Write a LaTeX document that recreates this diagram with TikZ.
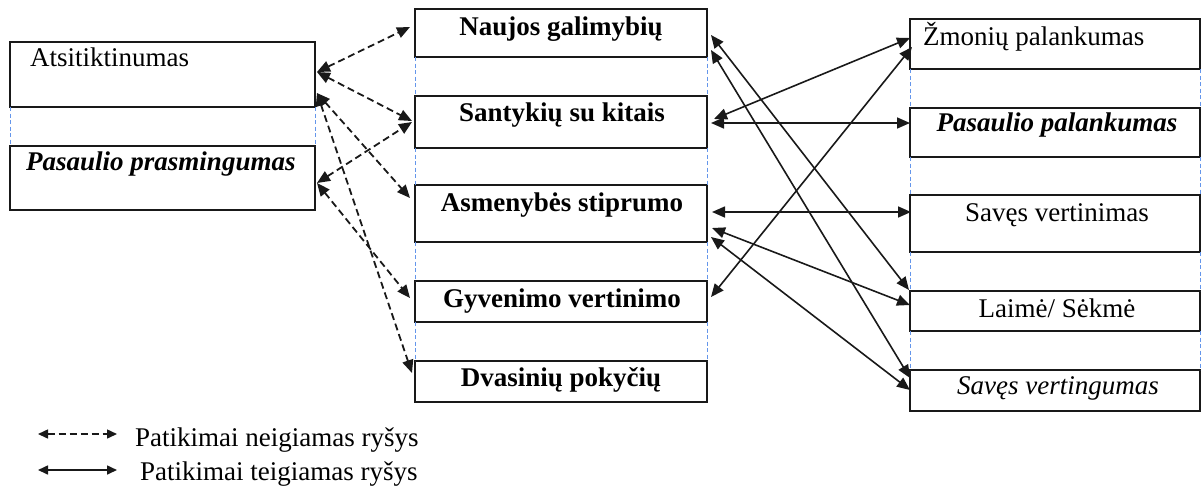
\documentclass[tikz,border=0pt]{standalone}
\usepackage{fontspec}
\setmainfont{Liberation Serif}
\usetikzlibrary{arrows.meta}
\definecolor{guideblue}{RGB}{100,150,235}
\begin{document}
\begin{tikzpicture}[x=1pt,y=-1pt,
  box/.style={draw=black!90,line width=1.6pt,rectangle,inner sep=0pt,outer sep=0pt,anchor=north west},
  txt/.style={inner sep=0pt,font=\fontsize{27}{30}\selectfont},
  mytip/.tip={Triangle[length=13pt,width=11pt]},
  negrel/.style={draw=black!90,line width=1.8pt,dash pattern=on 7pt off 4pt,mytip-mytip},
  posrel/.style={draw=black!90,line width=1.6pt,mytip-mytip},
  guide/.style={draw=guideblue,line width=1pt,dash pattern=on 4pt off 2.5pt}]
\useasboundingbox (0,0) rectangle (1202,488);

% left column
\node[box,minimum width=305,minimum height=65] (A) at (10,42) {};
\node[box,minimum width=305,minimum height=64] (P) at (10,146) {};
% middle column
\node[box,minimum width=292,minimum height=48] (N) at (415,9) {};
\node[box,minimum width=292,minimum height=52] (S) at (415,96) {};
\node[box,minimum width=292,minimum height=57] (As) at (415,185) {};
\node[box,minimum width=292,minimum height=41] (G) at (415,281) {};
\node[box,minimum width=292,minimum height=41] (D) at (415,361) {};
% right column
\node[box,minimum width=290,minimum height=50] (Z) at (910,19) {};
\node[box,minimum width=290,minimum height=49] (PP) at (910,108) {};
\node[box,minimum width=290,minimum height=57] (SV) at (910,195) {};
\node[box,minimum width=290,minimum height=40] (L) at (910,291) {};
\node[box,minimum width=290,minimum height=41] (SVg) at (910,370) {};

% guide lines
\draw[guide] (A.south west) -- (P.north west);
\draw[guide] (A.south east) -- (P.north east);
\foreach \u/\v in {N/S,S/As,As/G,G/D,Z/PP,PP/SV,SV/L,L/SVg}{
  \draw[guide] (\u.south west) -- (\v.north west);
  \draw[guide] (\u.south east) -- (\v.north east);
}

% texts
\node[txt,anchor=base west] (tA) at (30,66) {Atsitiktinumas};
\node[txt,anchor=base west] (tP) at (26,170) {\textbf{\textit{Pasaulio prasmingumas}}};
\node[txt,anchor=base] (tN) at (561,35) {\textbf{Naujos galimybių}};
\node[txt,anchor=base] (tS) at (562,121) {\textbf{Santykių su kitais}};
\node[txt,anchor=base] (tAs) at (562,211) {\textbf{Asmenybės stiprumo}};
\node[txt,anchor=base] (tG) at (562,307) {\textbf{Gyvenimo vertinimo}};
\node[txt,anchor=base] (tD) at (561,386) {\textbf{Dvasinių pokyčių}};
\node[txt,anchor=base west] (tZ) at (923,45) {Žmonių palankumas};
\node[txt,anchor=base] (tPP) at (1057,131) {\textbf{\textit{Pasaulio palankumas}}};
\node[txt,anchor=base] (tSV) at (1057,221) {Savęs vertinimas};
\node[txt,anchor=base] (tL) at (1057,317) {Laimė/ Sėkmė};
\node[txt,anchor=base] (tSVg) at (1058,394) {\textit{Savęs vertingumas}};

% negative (dashed) relations
\draw[negrel] ([shift={(2,30)}]A.north east) -- ([shift={(-5,18)}]N.north west);
\draw[negrel] ([shift={(2,30)}]A.north east) -- ([shift={(-3,25)}]S.north west);
\draw[negrel] ([shift={(2,51)}]A.north east) -- ([shift={(-5,13)}]As.north west);
\draw[negrel] ([shift={(2,51)}]A.north east) -- ([shift={(-3,12)}]D.north west);
\draw[negrel] ([shift={(2,37)}]P.north east) -- ([shift={(-3,26)}]S.north west);
\draw[negrel] ([shift={(2,37)}]P.north east) -- ([shift={(-5,17)}]G.north west);

% positive (solid) relations
\draw[posrel] ([shift={(4,26)}]N.north east) -- ([shift={(-1,-1)}]L.north west);
\draw[posrel] ([shift={(4,41)}]N.north east) -- ([shift={(0,8)}]SVg.north west);
\draw[posrel] ([shift={(7,23)}]S.north east) -- ([shift={(0,19)}]Z.north west);
\draw[posrel] ([shift={(4,27)}]S.north east) -- ([shift={(0,15)}]PP.north west);
\draw[posrel] ([shift={(4,16)}]G.north east) -- ([shift={(2,28)}]Z.north west);
\draw[posrel] ([shift={(5,27)}]As.north east) -- ([shift={(1,17)}]SV.north west);
\draw[posrel] ([shift={(5,43)}]As.north east) -- ([shift={(0,14)}]L.north west);
\draw[posrel] ([shift={(4,52)}]As.north east) -- ([shift={(0,20)}]SVg.north west);

% legend
\coordinate (ln1) at (38,434);
\coordinate (ln2) at (117,434);
\coordinate (lp1) at (38,470);
\coordinate (lp2) at (117,470);
\draw[negrel,line width=1.5pt,dash pattern=on 7pt off 4pt,{Triangle[length=10pt,width=9pt]}-{Triangle[length=10pt,width=9pt]}] (ln1) -- (ln2);
\draw[posrel,{Triangle[length=10pt,width=9pt]}-{Triangle[length=10pt,width=9pt]}] (lp1) -- (lp2);
\node[txt,anchor=base west] (tl1) at (135,446) {Patikimai neigiamas ryšys};
\node[txt,anchor=base west] (tl2) at (140,480) {Patikimai teigiamas ryšys};
\end{tikzpicture}
\end{document}
